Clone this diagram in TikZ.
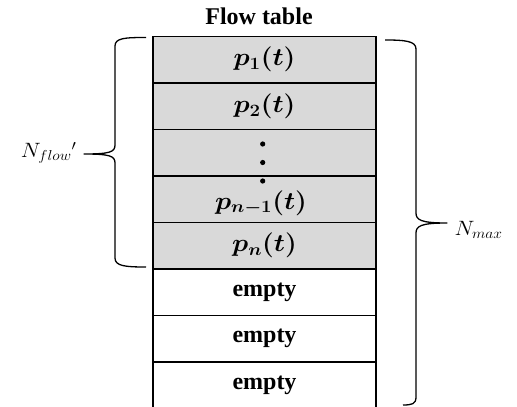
\documentclass[tikz,border=0pt]{standalone}
\usepackage{amsmath,bm}
\usepackage{fontspec}
\setmainfont{Liberation Serif}
\definecolor{cellgray}{HTML}{D9D9D9}
\newcommand{\wmath}[1]{\scalebox{1.08}[1]{#1}}
\begin{document}
\begin{tikzpicture}[x=1pt,y=-1pt,
  cell/.style={draw=black, line width=1.8pt, minimum width=223pt, minimum height=46.5pt, inner sep=0pt, outer sep=0pt, anchor=north},
  full/.style={cell, fill=cellgray, font=\fontsize{23.5}{25}\selectfont},
  emptycell/.style={cell, fill=white, font=\fontsize{24}{26}\selectfont\bfseries},
  brace/.style={line width=1.3pt, line join=round},
  mfont/.style={font=\fontsize{22}{24}\selectfont}]
\useasboundingbox (0,0) rectangle (517,407);
\node[font=\fontsize{24}{26}\selectfont\bfseries] (title) at (259,16) {Flow table};
\node[full] (r1) at (264.5,36.5) {\wmath{$\bm{p_1(t)}$}};
\node[full] (r2) at (264.5,83) {\wmath{$\bm{p_2(t)}$}};
\node[full] (r3) at (264.5,129.5) {};
\node[full] (r4) at (264.5,176) {};
\node[full] (r5) at (264.5,222.5) {\wmath{$\bm{p_n(t)}$}};
\node[emptycell] (r6) at (264.5,269) {empty};
\node[emptycell] (r7) at (264.5,315.5) {empty};
\node[emptycell] (r8) at (264.5,362) {empty};
\node[font=\fontsize{23.5}{25}\selectfont] (p4) at (261,203) {\wmath{$\bm{p_{n-1}(t)}$}};
\fill (262.7,144) circle (2.6pt);
\fill (262.7,162.5) circle (2.6pt);
\fill (262.7,181) circle (2.6pt);
% left brace
\draw[brace] (146,37.5) .. controls (125,37.5) and (115,38) .. (115,46) -- (115,145)
  .. controls (115,152) and (110,154) .. (84,154)
  .. controls (110,154) and (115,156) .. (115,163) -- (115,258)
  .. controls (115,266) and (125,267) .. (146,267);
\node[mfont, anchor=east] (nflow) at (80,153) {\wmath{$N_{flow}{}'$}};
% right brace
\draw[brace] (385,40) .. controls (405,40) and (416,41) .. (416,49) -- (416,213)
  .. controls (416,220) and (421,223) .. (447,223)
  .. controls (421,223) and (416,226) .. (416,233) -- (416,397)
  .. controls (416,404) and (412,405) .. (403,405);
\node[mfont, anchor=west] (nmax) at (451,230) {\wmath{$N_{max}$}};
\end{tikzpicture}
\end{document}
